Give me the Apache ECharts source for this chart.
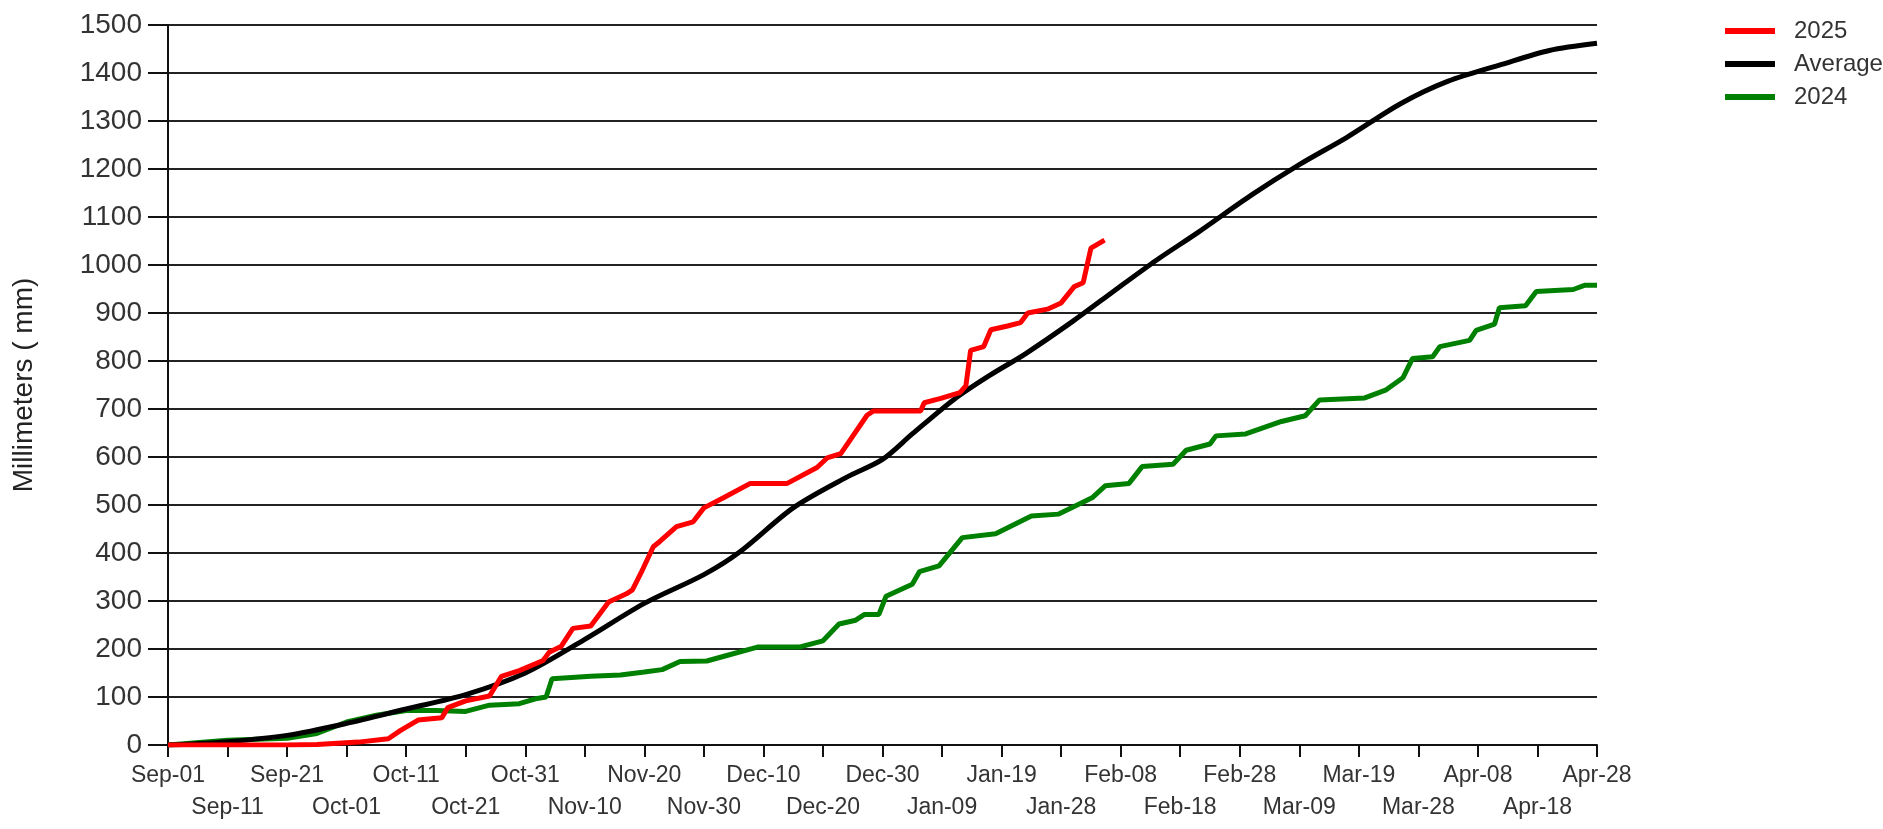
<!DOCTYPE html>
<html>
<head>
<meta charset="utf-8">
<script src="https://cdn.jsdelivr.net/npm/echarts@6/dist/echarts.min.js"></script>
<style>
  html, body { margin: 0; padding: 0; background: #fff; }
  #chart { width: 1883px; height: 829px; }
</style>
</head>
<body>
<div id="chart"></div>
<script>
// x in days from Sep-01, labels every 10 days
const tickLabels = ["Sep-01", "Sep-11", "Sep-21", "Oct-01", "Oct-11", "Oct-21", "Oct-31", "Nov-10",
  "Nov-20", "Nov-30", "Dec-10", "Dec-20", "Dec-30", "Jan-09", "Jan-19", "Jan-28", "Feb-08",
  "Feb-18", "Feb-28", "Mar-09", "Mar-19", "Mar-28", "Apr-08", "Apr-18", "Apr-28"];

// Average
const avgDays = [0, 10, 20, 30, 40, 50, 60, 70, 80, 90, 96, 105, 114, 120, 125, 132, 138, 144,
  152, 159, 166, 173, 182, 190, 198, 207, 215, 224, 232, 240];
const avgMm = [0, 7, 20, 45, 75, 105, 150, 220, 295, 355, 402, 494, 558, 595, 648, 720, 770, 815,
  883, 947, 1010, 1068, 1146, 1209, 1266, 1336, 1383, 1418, 1447, 1462];

// 2025
const days2025 = [0, 10, 20, 25, 32, 37, 39, 42, 46, 47, 50, 54, 56, 59, 63, 64, 66, 68, 71, 74,
  77, 78, 79.5, 81.5, 82.6, 85.4, 88.2, 90, 93.3, 97.8, 104, 109, 110.7, 113, 117.4, 118.5,
  126.4, 127, 129.8, 133, 134, 134.8, 137, 138.2, 141, 143.2, 144.4, 147.7, 150, 152.2, 153.7,
  155, 157.3];
const mm2025 = [0, 0, 0, 1, 6, 13, 30, 52, 57, 78, 92, 102, 143, 155, 176, 193, 205, 243, 248, 298,
  315, 323, 360, 413, 424, 455, 465, 494, 515, 545, 545, 578, 598, 607, 687, 696,
  696, 713, 722, 734, 748, 822, 830, 865, 873, 880, 900, 908, 921, 955, 963,
  1035, 1052];

// 2024
const days2024 = [0, 10, 20, 25, 30, 35, 40, 45, 50, 54, 59, 62, 63.5, 64.5, 71, 76, 80, 83, 86,
  90.5, 94, 99, 106, 110, 112.7, 115.5, 117, 119.4, 120.6, 125, 126.2, 129.5, 133.4, 139, 145,
  149.6, 155.2, 157.4, 161.4, 163.6, 168.8, 171, 175, 176, 181, 187, 191, 193.4, 201, 204.6,
  207.4, 209, 212.4, 213.6, 218.6, 219.7, 222.8, 223.6, 228, 229.8, 236, 238, 240];
const mm2024 = [0, 10, 14, 24, 48, 62, 72, 72, 70, 83, 86, 97, 100, 138, 143, 146, 152, 157, 174,
  175, 187, 204, 204, 217, 252, 260, 272, 272, 310, 335, 361, 373, 432, 440, 477,
  481, 515, 540, 545, 580, 585, 614, 627, 644, 648, 674, 686, 719, 723, 740,
  765, 805, 809, 830, 843, 864, 877, 911, 915, 945, 949, 958, 958];

const pairs = (xs, ys) => xs.map((x, i) => [x, ys[i]]);

const chart = echarts.init(document.getElementById("chart"));
const font = "Liberation Sans, Arial, sans-serif";

// two label rows: even ticks on the first row, odd ticks on the second
const dayAxis = (row, showLine) => ({
  type: "value",
  position: "bottom",
  min: 0,
  max: 240,
  interval: 10,
  axisLine: { show: showLine, onZero: false, lineStyle: { color: "#111", width: 2 } },
  axisTick: { show: showLine, length: 12, lineStyle: { color: "#111", width: 2 } },
  splitLine: { show: false },
  axisLabel: {
    color: "#333",
    fontSize: 23,
    fontFamily: font,
    margin: row === 0 ? 19 : 51,
    showMinLabel: true,
    showMaxLabel: true,
    formatter: function (v) {
      const i = Math.round(v / 10);
      return i % 2 === row ? tickLabels[i] || "" : "";
    },
  },
});

const option = {
  backgroundColor: "#fff",
  animation: false,
  grid: { left: 168, top: 25, right: 286, bottom: 84 },
  legend: {
    orient: "vertical",
    left: 1720,
    top: 14,
    data: ["2025", "Average", "2024"],
    icon: "rect",
    itemWidth: 50,
    itemHeight: 6,
    itemGap: 9,
    textStyle: { color: "#333", fontSize: 24, fontFamily: font, lineHeight: 24, padding: [0, 0, 0, 14] },
  },
  xAxis: [dayAxis(0, true), dayAxis(1, false)],
  yAxis: {
    type: "value",
    min: 0,
    max: 1500,
    interval: 100,
    name: "Millimeters ( mm)",
    nameLocation: "middle",
    nameGap: 130,
    nameTextStyle: { color: "#222", fontSize: 28, fontFamily: font },
    axisLine: { show: true, lineStyle: { color: "#111", width: 2 } },
    axisTick: { show: true, length: 20, lineStyle: { color: "#111", width: 2 } },
    splitLine: { show: true, lineStyle: { color: "#222", width: 2 } },
    axisLabel: {
      color: "#333",
      fontSize: 28,
      fontFamily: font,
      margin: 26,
      formatter: function (v) { return String(v); },
    },
  },
  series: [
    {
      name: "2024",
      type: "line",
      data: pairs(days2024, mm2024),
      showSymbol: false,
      lineStyle: { color: "#008000", width: 5 },
      itemStyle: { color: "#008000" },
    },
    {
      name: "Average",
      type: "line",
      data: pairs(avgDays, avgMm),
      smooth: 0.3,
      showSymbol: false,
      lineStyle: { color: "#000", width: 5 },
      itemStyle: { color: "#000" },
    },
    {
      name: "2025",
      type: "line",
      data: pairs(days2025, mm2025),
      showSymbol: false,
      lineStyle: { color: "#ff0000", width: 5 },
      itemStyle: { color: "#ff0000" },
    },
  ],
};

chart.setOption(option);
</script>
</body>
</html>
